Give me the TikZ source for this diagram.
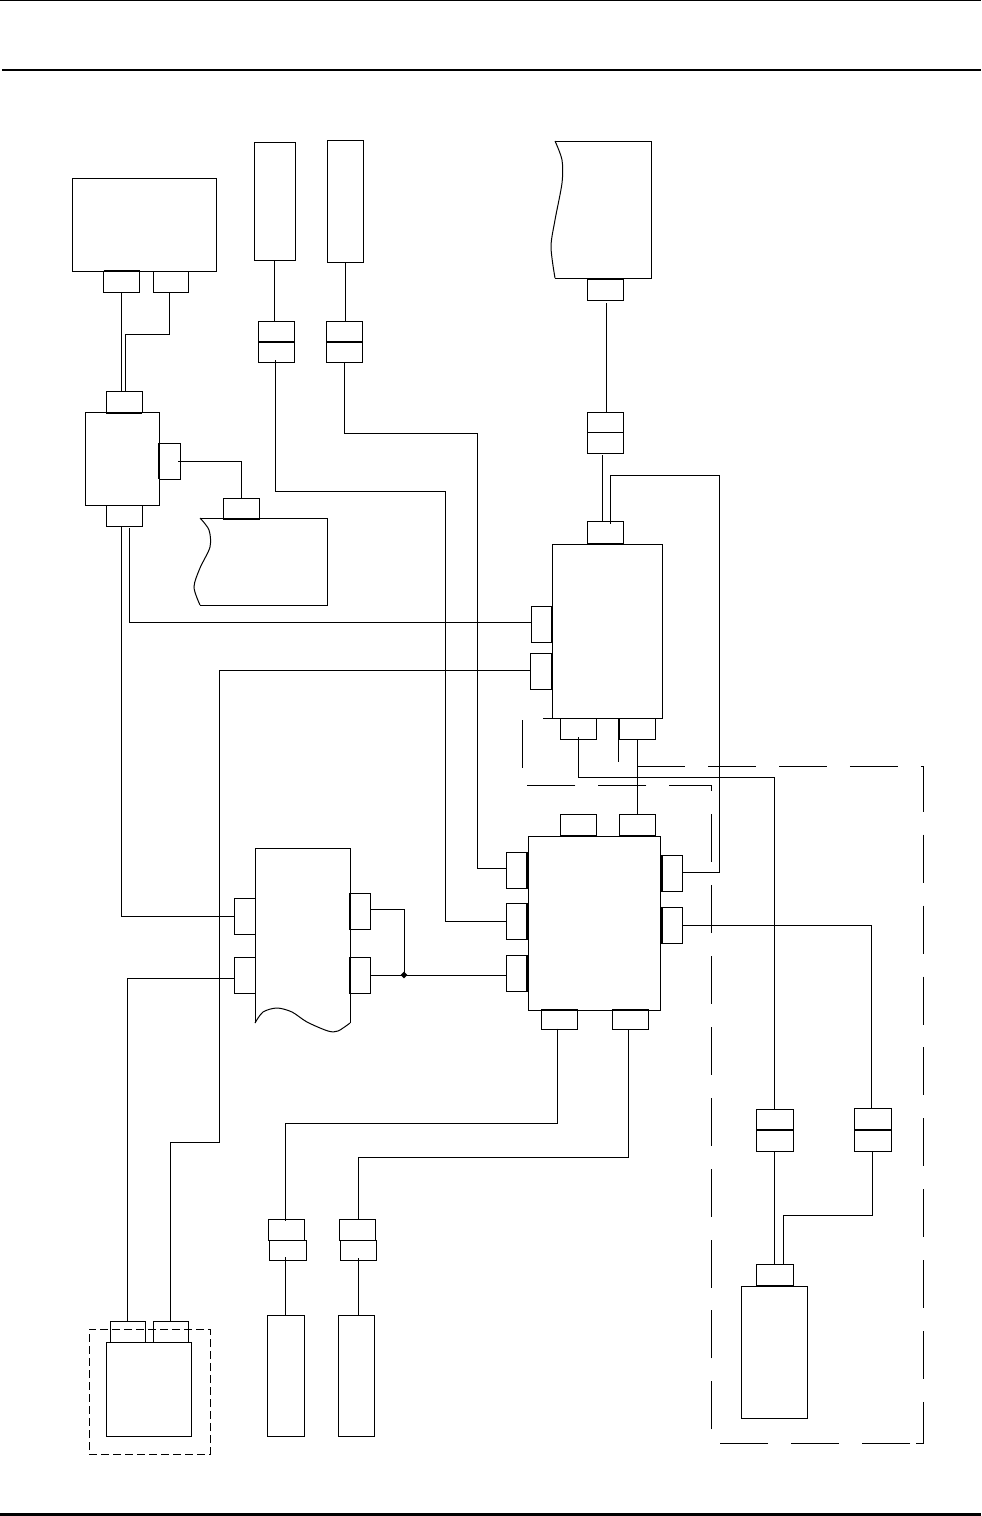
\documentclass[tikz,border=0pt]{standalone}
\usepackage{tikz}
\usetikzlibrary{calc,shapes.geometric}

\begin{document}
\begin{tikzpicture}[
    x=1pt, y=-1pt,
    unit/.style={rectangle, draw=black, line width=1pt, inner sep=0pt, outer sep=0pt},
    conn/.style={unit, minimum width=36pt, minimum height=21pt},
    sideconn/.style={unit, minimum width=21pt, minimum height=36pt},
    wire/.style={draw=black, line width=1pt, line join=miter},
    seam/.style={draw=black, line width=2pt},
    rule/.style={draw=black},
    fence/.style={wire, dash pattern=on 48pt off 22.9pt},
    jct/.style={diamond, fill=black, inner sep=0pt, minimum size=7pt},
]
\path[fill=white] (0,0) rectangle (982,1516);
\useasboundingbox (0,0) rectangle (982,1516);

% page rules
\draw[rule, line width=1pt] (0,0.5) -- (981,0.5);
\draw[rule, line width=2pt] (2,70) -- (981,70);
\draw[rule, line width=3pt] (0,1514) -- (981,1514);

% dashed enclosure
\draw[fence] (910,1443) -- (711,1443) -- (711,785) -- (522,785) -- (522,718)
    -- (618,718) -- (618,766) -- (923,766) -- (923,1443) -- (910,1443);

% upper left unit
\node[unit, minimum width=144pt, minimum height=93pt] (topbox) at (144,224.5) {};
\node[conn] (a1) at (121.5,281.5) {};
\node[conn, minimum width=35pt] (a2) at (170.5,281.5) {};

% middle left unit
\node[unit, minimum width=74pt, minimum height=93pt] (midbox) at (122,458.5) {};
\node[conn] (btop) at (124,402) {};
\node[conn] (bbot) at (124,515.5) {};
\node[sideconn] (bright) at (169.5,461) {};

% torn unit beside it
\draw[wire] (200,518) -- (327,518) -- (327,605) -- (200,605);
\draw[wire] plot[smooth] coordinates {(200,518) (209,530) (210,547) (200,568) (194,587) (200,605)};
\node[conn] (ctop) at (241.5,508.5) {};

% two tall units at the top
\node[unit, minimum width=41pt, minimum height=118pt] (dbox) at (274.5,201) {};
\node[unit, minimum width=36pt, minimum height=122pt] (ebox) at (345,201) {};
\node[unit, minimum width=36pt, minimum height=41pt] (d2) at (276,341.5) {};
\node[unit, minimum width=36pt, minimum height=41pt] (e2) at (344,341.5) {};

% torn unit top right
\draw[wire] (555,141) -- (651.5,141) -- (651.5,278) -- (555,278);
\draw[wire] plot[smooth] coordinates {(555,141) (562,160) (562,183) (555,220) (551,247) (555,278)};
\node[conn] (f1) at (605,289.5) {};
\node[unit, minimum width=36pt, minimum height=41pt] (f2) at (605,432.5) {};

% upper centre unit
\node[unit, minimum width=110pt, minimum height=174pt] (gbox) at (607,631) {};
\node[conn, minimum height=22pt] (gtop) at (605,532.5) {};
\node[sideconn] (gl1) at (541.5,624) {};
\node[sideconn, minimum width=22pt] (gl2) at (541,671) {};
\node[conn] (gb1) at (578.5,728.5) {};
\node[conn] (gb2) at (637,728.5) {};

% lower centre unit
\node[unit, minimum width=132pt, minimum height=174pt] (hbox) at (594,923) {};
\node[conn] (ht1) at (578.5,825) {};
\node[conn] (ht2) at (637,825) {};
\node[sideconn] (hl1) at (516.5,870.5) {};
\node[sideconn] (hl2) at (516.5,921) {};
\node[sideconn] (hl3) at (516.5,973) {};
\node[sideconn] (hr1) at (672,873) {};
\node[sideconn] (hr2) at (672,925) {};
\node[conn, minimum height=20pt] (hb1) at (559,1019.5) {};
\node[conn, minimum height=20pt] (hb2) at (630,1019.5) {};

% torn unit in the middle
\draw[wire] (255,1023) -- (255,848) -- (350,848) -- (350,1023);
\draw[wire] plot[smooth] coordinates {(255,1023) (263,1012) (277,1008) (292,1012) (307,1022) (328,1031) (338,1031) (350,1023)};
\node[sideconn] (jl1) at (244.5,916) {};
\node[sideconn] (jl2) at (244.5,975) {};
\node[sideconn] (jr1) at (360,911) {};
\node[sideconn] (jr2) at (360,975) {};
\node[jct] (dot) at (404,975) {};

% bottom left unit
\node[unit, dash pattern=on 8pt off 4pt, minimum width=121pt, minimum height=125pt] (mfence) at (149.5,1391.5) {};
\node[unit, minimum width=85pt, minimum height=94pt] (mbox) at (148.5,1389) {};
\node[conn, minimum width=35pt] (m1) at (127.5,1331.5) {};
\node[conn, minimum width=35pt] (m2) at (170.5,1331.5) {};

% plug pairs and tall units at the bottom
\node[conn, minimum height=21pt] (p1) at (286,1229.5) {};
\node[conn, minimum width=37pt, minimum height=20pt] (q1) at (287.5,1250) {};
\node[conn, minimum height=21pt] (p2) at (357,1229.5) {};
\node[conn, minimum width=36pt, minimum height=20pt] (q2) at (358,1250) {};
\node[unit, minimum width=37pt, minimum height=121pt] (pt1) at (285.5,1375.5) {};
\node[unit, minimum width=36pt, minimum height=121pt] (pt2) at (356,1375.5) {};

% units inside the enclosure
\node[unit, minimum width=37pt, minimum height=42pt] (rc1) at (774.5,1130) {};
\node[unit, minimum width=37pt, minimum height=43pt] (rc2) at (872.5,1129.5) {};
\node[conn, minimum width=37pt] (kc) at (774.5,1275) {};
\node[unit, minimum width=66pt, minimum height=132pt] (kbox) at (774,1352) {};

% heavy seams
\draw[seam] (a1.north west) -- (a1.north east);
\draw[seam] (btop.south west) -- (btop.south east);
\draw[seam] (bright.north west) -- (bright.south west);
\draw[seam] (ctop.south west) -- (ctop.south east);
\draw[seam] (f1.north west) -- (f1.north east);
\draw[seam] (gtop.south west) -- (gtop.south east);
\draw[seam] (gl1.north east) -- (gl1.south east);
\draw[seam] (gl2.north east) -- (gl2.south east);
\draw[seam] (ht1.south west) -- (ht1.south east);
\draw[seam] (ht2.south west) -- (ht2.south east);
\draw[seam] (hl1.north east) -- (hl1.south east);
\draw[seam] (hl2.north east) -- (hl2.south east);
\draw[seam] (hl3.north east) -- (hl3.south east);
\draw[seam] (hr1.north west) -- (hr1.south west);
\draw[seam] (hr2.north west) -- (hr2.south west);
\draw[seam] (hb1.north west) -- (hb1.north east);
\draw[seam] (hb2.north west) -- (hb2.north east);
\draw[seam] (jr1.north west) -- (jr1.south west);
\draw[seam] (jr2.north west) -- (jr2.south west);
\draw[seam] (kc.south west) -- (kc.south east);
\draw[seam] (d2.west) -- (d2.east);
\draw[seam] (e2.west) -- (e2.east);
\draw[seam] (rc1.west) -- (rc1.east);
\draw[seam] (rc2.west) -- (rc2.east);
\draw[wire] (f2.west) -- (f2.east);

% wires, upper left
\draw[wire] (a1.south) -- (a1.south |- btop.north);
\draw[wire] ($(a2.south)+(-1.5,0)$) -- ++(0,42) -| ($(btop.north)+(1,0)$);
\draw[wire] ($(bright.east)+(-2,0)$) -| (ctop.north);
\draw[wire] (bbot.south -| a1.south) |- (jl1.west);
\draw[wire] ($(bbot.south)+(5,2)$) |- ($(gl1.west)+(0,-2)$);

% wires from the tall units to the lower centre unit
\draw[wire] (dbox.south) -- (dbox.south |- d2.north);
\draw[wire] ($(d2.south)+(-0.5,-2)$) -- ++(0,131) -- ++(169.5,0) |- (hl2.west);
\draw[wire] (ebox.south) -- (ebox.south |- e2.north);
\draw[wire] (e2.south) -- ++(0,71) -- ++(133,0) |- ($(hl1.west)+(0,-2)$);

% wires, top right
\draw[wire] ($(f1.south)+(1,3)$) -- ($(f2.north)+(1,0)$);
\draw[wire] ($(f2.south)+(-3,2)$) -- ($(gtop.north)+(-3,0)$);
\draw[wire] ($(gtop.north)+(5,2)$) -- ++(0,-48) -- ++(109,0) |- ($(hr1.east)+(0,-1)$);

% wires, centre and right
\draw[wire] ($(gb1.south)+(0,-2)$) -- ++(0,40) -| (rc1.north);
\draw[wire] (gb2.south) -- (ht2.north);
\draw[wire] (hr2.east) -| ($(rc2.north)+(-1,0)$);
\draw[wire] (rc1.south) -- ($(kc.north)+(0,-1)$);
\draw[wire] (rc2.south) -- ++(0,64) -| ($(kc.north)+(9,0)$);

% wires, bottom
\draw[wire] ($(hb1.south)+(-2,-1)$) -- ++(0,95) -| ($(p1.north)+(-0.5,2)$);
\draw[wire] ($(hb2.south)+(-1.5,0)$) -- ++(0,127.5) -| ($(p2.north)+(1,1)$);
\draw[wire] (pt1.north) -- ++(0,-58);
\draw[wire] ($(pt2.north)+(2,0)$) -- ++(0,-57);
\draw[wire] (m1.north) |- ($(jl2.west)+(0,3)$);
\draw[wire] (m2.north) -- ++(0,-179) -- ++(48.5,0) |- ($(gl2.west)+(0,-1)$);

% wires at the junction
\draw[wire] ($(jr1.east)+(0,-2)$) -| (dot.center);
\draw[wire] (jr2.east) -- (jr2.east -| hl3.west);

\end{tikzpicture}
\end{document}
